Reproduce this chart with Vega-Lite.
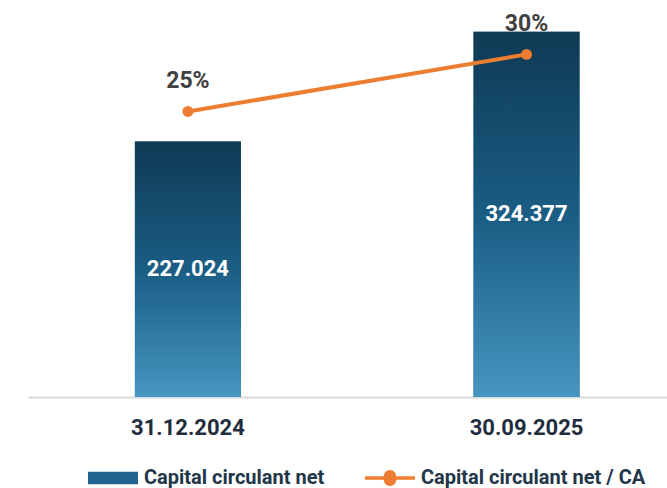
{
  "$schema": "https://vega.github.io/schema/vega-lite/v6.json",
  "autosize": {"type": "none"},
  "width": 639,
  "height": 394,
  "padding": {"left": 28, "top": 3, "right": 0, "bottom": 91},
  "background": "white",
  "config": {"view": {"stroke": null}, "font": "Roboto"},
  "data": {"values": [
    {"date": "31.12.2024", "value": 227.024, "pct": 0.25},
    {"date": "30.09.2025", "value": 324.377, "pct": 0.30}
  ]},
  "encoding": {
    "x": {
      "field": "date", "type": "nominal", "sort": null,
      "scale": {"type": "band", "paddingInner": 0.687, "paddingOuter": 0.287, "align": 0.55, "round": false},
      "axis": {"title": null, "labelAngle": 0, "ticks": false, "domainColor": "#d9d9d9", "domainWidth": 2,
               "labelFont": "Roboto", "labelFontSize": 22, "labelFontWeight": "bold", "labelColor": "#1f2d3d", "labelPadding": 20}
    }
  },
  "layer": [
    {
      "mark": {"type": "bar"},
      "encoding": {
        "y": {"field": "value", "type": "quantitative", "scale": {"domain": [0, 350]}, "axis": null},
        "color": {"datum": "Capital circulant net", "type": "nominal",
          "scale": {"domain": ["Capital circulant net", "Capital circulant net / CA"], "range": ["#1f6590", "#ED7D31"]},
          "legend": {
            "title": null, "orient": "none", "legendX": 60, "legendY": 450, "direction": "horizontal",
            "padding": 0, "symbolSize": 2500, "labelOffset": 6, "columnPadding": 40, "labelLimit": 400,
            "labelFont": "Roboto", "labelFontSize": 20, "labelFontWeight": "bold", "labelColor": "#22364a",
            "encode": {
              "symbols": {"update": {
                "shape": {"signal": "datum.value === 'Capital circulant net' ? 'M-1,-0.25H1V0.25H-1Z' : 'M-1,-0.07H-0.25A0.25,0.25 0 0,1 0.25,-0.07H1V0.07H0.25A0.25,0.25 0 0,1 -0.25,0.07H-1Z'"},
                "stroke": {"value": "transparent"},
                "strokeWidth": {"value": 0},
                "opacity": {"value": 1},
                "fillOpacity": {"value": 1}
              }}
            }
          }
        }
      }
    },
    {
      "mark": {"type": "bar", "fill": {"gradient": "linear", "x1": 0, "y1": 0, "x2": 0, "y2": 1,
          "stops": [{"offset": 0, "color": "#0f3a54"}, {"offset": 0.5, "color": "#1a5d84"}, {"offset": 1, "color": "#4596c0"}]}},
      "encoding": {
        "y": {"field": "value", "type": "quantitative", "scale": {"domain": [0, 350]}, "axis": null}
      }
    },
    {
      "mark": {"type": "text", "font": "Roboto", "fontSize": 22, "fontWeight": "bold", "color": "white", "baseline": "middle"},
      "encoding": {
        "y": {"field": "value", "type": "quantitative", "scale": {"domain": [0, 700]}, "axis": null},
        "text": {"field": "value", "type": "quantitative", "format": ".3f"}
      }
    },
    {
      "mark": {"type": "line", "strokeWidth": 4, "point": {"filled": true, "size": 120}},
      "encoding": {
        "y": {"field": "pct", "type": "quantitative", "scale": {"domain": [0, 0.345]}, "axis": null},
        "color": {"datum": "Capital circulant net / CA", "type": "nominal"}
      }
    },
    {
      "mark": {"type": "text", "font": "Roboto", "fontSize": 23, "fontWeight": "bold", "color": "#404040", "baseline": "alphabetic", "dy": -23},
      "encoding": {
        "y": {"field": "pct", "type": "quantitative", "scale": {"domain": [0, 0.345]}, "axis": null},
        "text": {"field": "pct", "type": "quantitative", "format": ".0%"}
      }
    }
  ],
  "resolve": {"scale": {"y": "independent"}}
}
